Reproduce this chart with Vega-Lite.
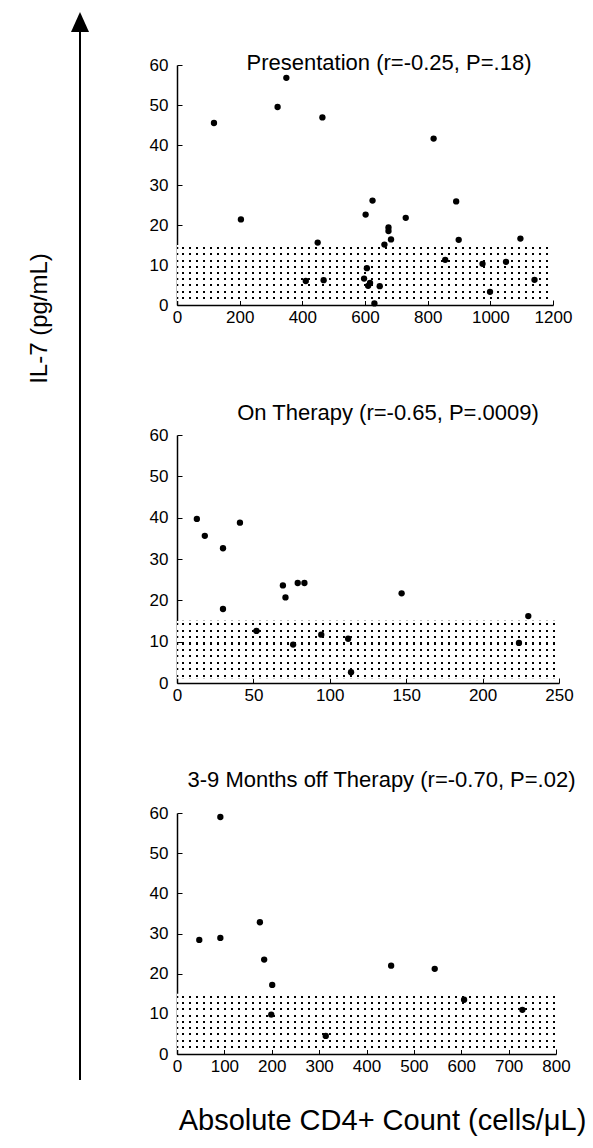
{
  "$schema": "https://vega.github.io/schema/vega-lite/v6.json",
  "padding": {"left": 27, "top": 12, "right": 5, "bottom": 5},
  "background": "white",
  "bounds": "flush",
  "spacing": 87,
  "datasets": {
    "pres": [
      {"cd4": 118, "il7": 45.5}, {"cd4": 204, "il7": 21.4}, {"cd4": 321, "il7": 49.5}, {"cd4": 349, "il7": 56.8},
      {"cd4": 411, "il7": 6.0}, {"cd4": 449, "il7": 15.6}, {"cd4": 464, "il7": 46.9}, {"cd4": 468, "il7": 6.2},
      {"cd4": 597, "il7": 6.6}, {"cd4": 602, "il7": 22.6}, {"cd4": 606, "il7": 9.2}, {"cd4": 610, "il7": 4.8},
      {"cd4": 616, "il7": 5.5}, {"cd4": 624, "il7": 26.1}, {"cd4": 630, "il7": 0.4}, {"cd4": 647, "il7": 4.7},
      {"cd4": 662, "il7": 15.1}, {"cd4": 675, "il7": 19.4}, {"cd4": 675, "il7": 18.5}, {"cd4": 683, "il7": 16.4},
      {"cd4": 730, "il7": 21.8}, {"cd4": 819, "il7": 41.6}, {"cd4": 856, "il7": 11.3}, {"cd4": 891, "il7": 25.9},
      {"cd4": 899, "il7": 16.3}, {"cd4": 975, "il7": 10.3}, {"cd4": 999, "il7": 3.3}, {"cd4": 1050, "il7": 10.8},
      {"cd4": 1096, "il7": 16.6}, {"cd4": 1141, "il7": 6.3}
    ],
    "onther": [
      {"cd4": 13, "il7": 39.7}, {"cd4": 18.2, "il7": 35.6}, {"cd4": 30.1, "il7": 32.6}, {"cd4": 30.1, "il7": 17.9},
      {"cd4": 41.2, "il7": 38.8}, {"cd4": 52, "il7": 12.6}, {"cd4": 69.3, "il7": 23.6}, {"cd4": 71, "il7": 20.7},
      {"cd4": 76, "il7": 9.3}, {"cd4": 79, "il7": 24.2}, {"cd4": 83.4, "il7": 24.2}, {"cd4": 94.4, "il7": 11.7},
      {"cd4": 112, "il7": 10.7}, {"cd4": 113.9, "il7": 2.6}, {"cd4": 147, "il7": 21.7}, {"cd4": 223.8, "il7": 9.7},
      {"cd4": 229.9, "il7": 16.2}
    ],
    "off": [
      {"cd4": 47, "il7": 28.4}, {"cd4": 91.5, "il7": 59.0}, {"cd4": 91.5, "il7": 28.9}, {"cd4": 175, "il7": 32.8},
      {"cd4": 184, "il7": 23.5}, {"cd4": 201, "il7": 17.2}, {"cd4": 199, "il7": 9.8}, {"cd4": 314, "il7": 4.5},
      {"cd4": 452, "il7": 22.0}, {"cd4": 544, "il7": 21.2}, {"cd4": 606, "il7": 13.5}, {"cd4": 729, "il7": 11.0}
    ],
    "band": [
      {"panel": "p1", "xa": 0, "xb": 1200, "ya": 1, "yb": 15},
      {"panel": "p2", "xa": 0, "xb": 250, "ya": 1, "yb": 15},
      {"panel": "p3", "xa": 0, "xb": 800, "ya": 1, "yb": 15}
    ]
  },
  "hconcat": [
    {
      "width": 20,
      "height": 1015,
      "data": {"values": [{}]},
      "layer": [
        {
          "mark": {"type": "rule", "color": "#000", "strokeWidth": 2},
          "encoding": {
            "x": {"datum": 0.5, "type": "quantitative", "scale": {"domain": [0, 1]}, "axis": null},
            "y": {"datum": 0, "type": "quantitative", "scale": {"domain": [0, 1], "range": [1015, -43]},
                  "axis": {"title": "IL-7 (pg/mL)", "domain": false, "ticks": false, "labels": false, "grid": false,
                           "titleFontSize": 24, "titleY": 253, "titleX": -19, "titleAngle": -90}},
            "y2": {"datum": 1}
          }
        },
        {
          "mark": {"type": "point", "shape": "M0,-1L0.9,1L-0.9,1Z", "filled": true, "size": 400, "color": "#000", "opacity": 1},
          "encoding": {
            "x": {"datum": 0.5, "type": "quantitative"},
            "y": {"datum": 1, "type": "quantitative"}
          }
        }
      ]
    },
    {
      "bounds": "flush",
      "spacing": 130,
      "vconcat": [
        {
          "width": 376,
          "height": 240,
          "title": {"text": "Presentation (r=-0.25, P=.18)", "offset": 0, "dy": 19, "dx": 24},
          "layer": [
            {
              "data": {"name": "band"},
              "transform": [{"filter": "datum.panel == 'p1'"}],
              "mark": {"type": "rule", "color": "#000", "strokeWidth": 56, "strokeDash": [2, 5], "strokeDashOffset": -5, "yOffset": -28},
              "encoding": {
                "x": {"field": "xa", "type": "quantitative", "scale": {"domain": [0, 1200], "nice": false},
                      "axis": {"values": [0, 200, 400, 600, 800, 1000, 1200], "tickCount": 12, "format": "d", "labelOverlap": false, "title": null}},
                "x2": {"field": "xb"},
                "y": {"field": "ya", "type": "quantitative", "scale": {"domain": [0, 60], "nice": false},
                      "axis": {"values": [0, 10, 20, 30, 40, 50, 60], "tickCount": 12, "format": "d", "labelOverlap": false, "title": null}}
              }
            },
            {
              "data": {"name": "band"},
              "transform": [{"filter": "datum.panel == 'p1'"}],
              "mark": {"type": "rect", "fillOpacity": 1, "fill": {"gradient": "linear", "x1": 0, "y1": 0, "x2": 0, "y2": 1, "stops": [
                {"offset": 0, "color": "#ffffff"},
                {"offset": 0.0376, "color": "#ffffff"}, {"offset": 0.0376, "color": "rgba(255,255,255,0)"}, {"offset": 0.0736, "color": "rgba(255,255,255,0)"}, {"offset": 0.0736, "color": "#ffffff"},
                {"offset": 0.1487, "color": "#ffffff"}, {"offset": 0.1487, "color": "rgba(255,255,255,0)"}, {"offset": 0.1847, "color": "rgba(255,255,255,0)"}, {"offset": 0.1847, "color": "#ffffff"},
                {"offset": 0.2598, "color": "#ffffff"}, {"offset": 0.2598, "color": "rgba(255,255,255,0)"}, {"offset": 0.2958, "color": "rgba(255,255,255,0)"}, {"offset": 0.2958, "color": "#ffffff"},
                {"offset": 0.3709, "color": "#ffffff"}, {"offset": 0.3709, "color": "rgba(255,255,255,0)"}, {"offset": 0.4069, "color": "rgba(255,255,255,0)"}, {"offset": 0.4069, "color": "#ffffff"},
                {"offset": 0.482, "color": "#ffffff"}, {"offset": 0.482, "color": "rgba(255,255,255,0)"}, {"offset": 0.518, "color": "rgba(255,255,255,0)"}, {"offset": 0.518, "color": "#ffffff"},
                {"offset": 0.5931, "color": "#ffffff"}, {"offset": 0.5931, "color": "rgba(255,255,255,0)"}, {"offset": 0.6291, "color": "rgba(255,255,255,0)"}, {"offset": 0.6291, "color": "#ffffff"},
                {"offset": 0.7042, "color": "#ffffff"}, {"offset": 0.7042, "color": "rgba(255,255,255,0)"}, {"offset": 0.7402, "color": "rgba(255,255,255,0)"}, {"offset": 0.7402, "color": "#ffffff"},
                {"offset": 0.8153, "color": "#ffffff"}, {"offset": 0.8153, "color": "rgba(255,255,255,0)"}, {"offset": 0.8513, "color": "rgba(255,255,255,0)"}, {"offset": 0.8513, "color": "#ffffff"},
                {"offset": 0.9264, "color": "#ffffff"}, {"offset": 0.9264, "color": "rgba(255,255,255,0)"}, {"offset": 0.9624, "color": "rgba(255,255,255,0)"}, {"offset": 0.9624, "color": "#ffffff"},
                {"offset": 1, "color": "#ffffff"}
              ]}},
              "encoding": {
                "x": {"field": "xa", "type": "quantitative", "scale": {"domain": [0, 1200], "nice": false}},
                "x2": {"field": "xb"},
                "y": {"field": "ya", "type": "quantitative", "scale": {"domain": [0, 60], "nice": false}},
                "y2": {"field": "yb"}
              }
            },
            {
              "data": {"name": "pres"},
              "mark": {"type": "circle", "size": 40, "color": "#000", "opacity": 1},
              "encoding": {
                "x": {"field": "cd4", "type": "quantitative", "scale": {"domain": [0, 1200], "nice": false},
                      "axis": {"values": [0, 200, 400, 600, 800, 1000, 1200], "tickCount": 12, "format": "d", "labelOverlap": false, "title": null}},
                "y": {"field": "il7", "type": "quantitative", "scale": {"domain": [0, 60], "nice": false},
                      "axis": {"values": [0, 10, 20, 30, 40, 50, 60], "tickCount": 12, "format": "d", "labelOverlap": false, "title": null}}
              }
            }
          ]
        },
        {
          "width": 382,
          "height": 248,
          "title": {"text": "On Therapy (r=-0.65, P=.0009)", "offset": 1, "dx": 20},
          "layer": [
            {
              "data": {"name": "band"},
              "transform": [{"filter": "datum.panel == 'p2'"}],
              "mark": {"type": "rule", "color": "#000", "strokeWidth": 58, "strokeDash": [2, 5], "strokeDashOffset": -5, "yOffset": -29},
              "encoding": {
                "x": {"field": "xa", "type": "quantitative", "scale": {"domain": [0, 250], "nice": false},
                      "axis": {"values": [0, 50, 100, 150, 200, 250], "tickCount": 12, "format": "d", "labelOverlap": false, "title": null}},
                "x2": {"field": "xb"},
                "y": {"field": "ya", "type": "quantitative", "scale": {"domain": [0, 60], "nice": false},
                      "axis": {"values": [0, 10, 20, 30, 40, 50, 60], "tickCount": 12, "format": "d", "labelOverlap": false, "title": null}}
              }
            },
            {
              "data": {"name": "band"},
              "transform": [{"filter": "datum.panel == 'p2'"}],
              "mark": {"type": "rect", "fillOpacity": 1, "fill": {"gradient": "linear", "x1": 0, "y1": 0, "x2": 0, "y2": 1, "stops": [
                {"offset": 0, "color": "#ffffff"},
                {"offset": 0.0376, "color": "#ffffff"}, {"offset": 0.0376, "color": "rgba(255,255,255,0)"}, {"offset": 0.0736, "color": "rgba(255,255,255,0)"}, {"offset": 0.0736, "color": "#ffffff"},
                {"offset": 0.1487, "color": "#ffffff"}, {"offset": 0.1487, "color": "rgba(255,255,255,0)"}, {"offset": 0.1847, "color": "rgba(255,255,255,0)"}, {"offset": 0.1847, "color": "#ffffff"},
                {"offset": 0.2598, "color": "#ffffff"}, {"offset": 0.2598, "color": "rgba(255,255,255,0)"}, {"offset": 0.2958, "color": "rgba(255,255,255,0)"}, {"offset": 0.2958, "color": "#ffffff"},
                {"offset": 0.3709, "color": "#ffffff"}, {"offset": 0.3709, "color": "rgba(255,255,255,0)"}, {"offset": 0.4069, "color": "rgba(255,255,255,0)"}, {"offset": 0.4069, "color": "#ffffff"},
                {"offset": 0.482, "color": "#ffffff"}, {"offset": 0.482, "color": "rgba(255,255,255,0)"}, {"offset": 0.518, "color": "rgba(255,255,255,0)"}, {"offset": 0.518, "color": "#ffffff"},
                {"offset": 0.5931, "color": "#ffffff"}, {"offset": 0.5931, "color": "rgba(255,255,255,0)"}, {"offset": 0.6291, "color": "rgba(255,255,255,0)"}, {"offset": 0.6291, "color": "#ffffff"},
                {"offset": 0.7042, "color": "#ffffff"}, {"offset": 0.7042, "color": "rgba(255,255,255,0)"}, {"offset": 0.7402, "color": "rgba(255,255,255,0)"}, {"offset": 0.7402, "color": "#ffffff"},
                {"offset": 0.8153, "color": "#ffffff"}, {"offset": 0.8153, "color": "rgba(255,255,255,0)"}, {"offset": 0.8513, "color": "rgba(255,255,255,0)"}, {"offset": 0.8513, "color": "#ffffff"},
                {"offset": 0.9264, "color": "#ffffff"}, {"offset": 0.9264, "color": "rgba(255,255,255,0)"}, {"offset": 0.9624, "color": "rgba(255,255,255,0)"}, {"offset": 0.9624, "color": "#ffffff"},
                {"offset": 1, "color": "#ffffff"}
              ]}},
              "encoding": {
                "x": {"field": "xa", "type": "quantitative", "scale": {"domain": [0, 250], "nice": false}},
                "x2": {"field": "xb"},
                "y": {"field": "ya", "type": "quantitative", "scale": {"domain": [0, 60], "nice": false}},
                "y2": {"field": "yb"}
              }
            },
            {
              "data": {"name": "onther"},
              "mark": {"type": "circle", "size": 40, "color": "#000", "opacity": 1},
              "encoding": {
                "x": {"field": "cd4", "type": "quantitative", "scale": {"domain": [0, 250], "nice": false},
                      "axis": {"values": [0, 50, 100, 150, 200, 250], "tickCount": 12, "format": "d", "labelOverlap": false, "title": null}},
                "y": {"field": "il7", "type": "quantitative", "scale": {"domain": [0, 60], "nice": false},
                      "axis": {"values": [0, 10, 20, 30, 40, 50, 60], "tickCount": 12, "format": "d", "labelOverlap": false, "title": null}}
              }
            }
          ]
        },
        {
          "width": 379,
          "height": 241,
          "title": {"text": "3-9 Months off Therapy (r=-0.70, P=.02)", "offset": 12, "dx": 15},
          "layer": [
            {
              "data": {"name": "band"},
              "transform": [{"filter": "datum.panel == 'p3'"}],
              "mark": {"type": "rule", "color": "#000", "strokeWidth": 56, "strokeDash": [2, 5], "strokeDashOffset": -5, "yOffset": -28},
              "encoding": {
                "x": {"field": "xa", "type": "quantitative", "scale": {"domain": [0, 800], "nice": false},
                      "axis": {"values": [0, 100, 200, 300, 400, 500, 600, 700, 800], "tickCount": 12, "format": "d", "labelOverlap": false,
                               "title": "Absolute CD4+ Count (cells/μL)", "titleFontSize": 29, "titlePadding": 32, "titleX": 205}},
                "x2": {"field": "xb"},
                "y": {"field": "ya", "type": "quantitative", "scale": {"domain": [0, 60], "nice": false},
                      "axis": {"values": [0, 10, 20, 30, 40, 50, 60], "tickCount": 12, "format": "d", "labelOverlap": false, "title": null}}
              }
            },
            {
              "data": {"name": "band"},
              "transform": [{"filter": "datum.panel == 'p3'"}],
              "mark": {"type": "rect", "fillOpacity": 1, "fill": {"gradient": "linear", "x1": 0, "y1": 0, "x2": 0, "y2": 1, "stops": [
                {"offset": 0, "color": "#ffffff"},
                {"offset": 0.0376, "color": "#ffffff"}, {"offset": 0.0376, "color": "rgba(255,255,255,0)"}, {"offset": 0.0736, "color": "rgba(255,255,255,0)"}, {"offset": 0.0736, "color": "#ffffff"},
                {"offset": 0.1487, "color": "#ffffff"}, {"offset": 0.1487, "color": "rgba(255,255,255,0)"}, {"offset": 0.1847, "color": "rgba(255,255,255,0)"}, {"offset": 0.1847, "color": "#ffffff"},
                {"offset": 0.2598, "color": "#ffffff"}, {"offset": 0.2598, "color": "rgba(255,255,255,0)"}, {"offset": 0.2958, "color": "rgba(255,255,255,0)"}, {"offset": 0.2958, "color": "#ffffff"},
                {"offset": 0.3709, "color": "#ffffff"}, {"offset": 0.3709, "color": "rgba(255,255,255,0)"}, {"offset": 0.4069, "color": "rgba(255,255,255,0)"}, {"offset": 0.4069, "color": "#ffffff"},
                {"offset": 0.482, "color": "#ffffff"}, {"offset": 0.482, "color": "rgba(255,255,255,0)"}, {"offset": 0.518, "color": "rgba(255,255,255,0)"}, {"offset": 0.518, "color": "#ffffff"},
                {"offset": 0.5931, "color": "#ffffff"}, {"offset": 0.5931, "color": "rgba(255,255,255,0)"}, {"offset": 0.6291, "color": "rgba(255,255,255,0)"}, {"offset": 0.6291, "color": "#ffffff"},
                {"offset": 0.7042, "color": "#ffffff"}, {"offset": 0.7042, "color": "rgba(255,255,255,0)"}, {"offset": 0.7402, "color": "rgba(255,255,255,0)"}, {"offset": 0.7402, "color": "#ffffff"},
                {"offset": 0.8153, "color": "#ffffff"}, {"offset": 0.8153, "color": "rgba(255,255,255,0)"}, {"offset": 0.8513, "color": "rgba(255,255,255,0)"}, {"offset": 0.8513, "color": "#ffffff"},
                {"offset": 0.9264, "color": "#ffffff"}, {"offset": 0.9264, "color": "rgba(255,255,255,0)"}, {"offset": 0.9624, "color": "rgba(255,255,255,0)"}, {"offset": 0.9624, "color": "#ffffff"},
                {"offset": 1, "color": "#ffffff"}
              ]}},
              "encoding": {
                "x": {"field": "xa", "type": "quantitative", "scale": {"domain": [0, 800], "nice": false}},
                "x2": {"field": "xb"},
                "y": {"field": "ya", "type": "quantitative", "scale": {"domain": [0, 60], "nice": false}},
                "y2": {"field": "yb"}
              }
            },
            {
              "data": {"name": "off"},
              "mark": {"type": "circle", "size": 40, "color": "#000", "opacity": 1},
              "encoding": {
                "x": {"field": "cd4", "type": "quantitative", "scale": {"domain": [0, 800], "nice": false},
                      "axis": {"values": [0, 100, 200, 300, 400, 500, 600, 700, 800], "tickCount": 12, "format": "d", "labelOverlap": false,
                               "title": "Absolute CD4+ Count (cells/μL)", "titleFontSize": 29, "titlePadding": 32, "titleX": 205}},
                "y": {"field": "il7", "type": "quantitative", "scale": {"domain": [0, 60], "nice": false},
                      "axis": {"values": [0, 10, 20, 30, 40, 50, 60], "tickCount": 12, "format": "d", "labelOverlap": false, "title": null}}
              }
            }
          ]
        }
      ]
    }
  ],
  "config": {
    "view": {"stroke": null},
    "font": "Liberation Sans",
    "axis": {
      "grid": false,
      "domainColor": "#000",
      "domainWidth": 1.5,
      "tickColor": "#000",
      "tickSize": -5,
      "tickWidth": 1,
      "labelColor": "#000",
      "labelFont": "Liberation Sans",
      "labelFontSize": 17,
      "labelFlush": false,
      "labelOverlap": false,
      "titleFont": "Liberation Sans",
      "titleColor": "#000",
      "titleFontWeight": "normal"
    },
    "axisX": {"labelPadding": 9},
    "axisY": {"labelPadding": 14},
    "title": {"font": "Liberation Sans", "fontSize": 22, "fontWeight": "normal", "color": "#000", "anchor": "middle"}
  }
}
